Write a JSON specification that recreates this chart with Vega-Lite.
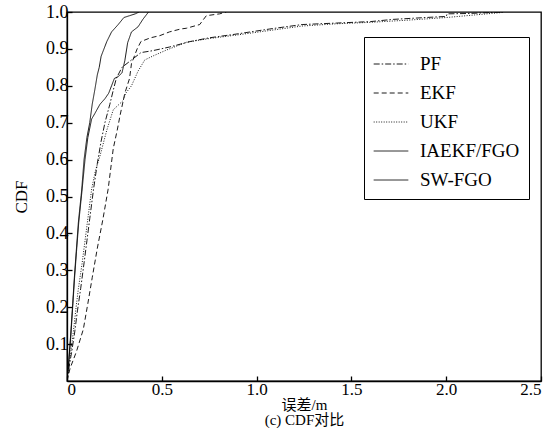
{
  "$schema": "https://vega.github.io/schema/vega-lite/v6.json",
  "width": 474,
  "height": 369,
  "autosize": {"type": "none"},
  "padding": {"left": 67, "top": 12, "right": 11, "bottom": 47},
  "background": "white",
  "config": {
    "view": {"stroke": "black", "strokeWidth": 1.3},
    "font": "Liberation Serif",
    "axis": {
      "domainColor": "black", "domainWidth": 1.3,
      "tickColor": "black", "tickWidth": 1.3, "tickSize": -5,
      "grid": false,
      "labelFont": "Liberation Serif", "labelFontSize": 17, "labelColor": "black",
      "titleFont": "Liberation Serif, Noto Sans CJK SC", "titleFontSize": 15, "titleColor": "black", "titleFontWeight": "normal"
    },
    "legend": {
      "labelFont": "Liberation Serif", "labelFontSize": 19, "labelColor": "black"
    }
  },
  "data": {
    "values": [
      {"s":"PF","x":0,"y":0},{"s":"PF","x":0.01,"y":0.035},{"s":"PF","x":0.025,"y":0.08},{"s":"PF","x":0.04,"y":0.13},{"s":"PF","x":0.055,"y":0.19},{"s":"PF","x":0.072,"y":0.25},{"s":"PF","x":0.09,"y":0.32},{"s":"PF","x":0.105,"y":0.38},{"s":"PF","x":0.12,"y":0.44},{"s":"PF","x":0.14,"y":0.52},{"s":"PF","x":0.16,"y":0.59},{"s":"PF","x":0.18,"y":0.65},{"s":"PF","x":0.2,"y":0.7},{"s":"PF","x":0.226,"y":0.75},{"s":"PF","x":0.245,"y":0.79},{"s":"PF","x":0.26,"y":0.82},{"s":"PF","x":0.29,"y":0.85},{"s":"PF","x":0.34,"y":0.87},{"s":"PF","x":0.39,"y":0.89},{"s":"PF","x":0.45,"y":0.895},{"s":"PF","x":0.54,"y":0.905},{"s":"PF","x":0.65,"y":0.92},{"s":"PF","x":0.75,"y":0.93},{"s":"PF","x":0.89,"y":0.94},{"s":"PF","x":1.07,"y":0.954},{"s":"PF","x":1.24,"y":0.966},{"s":"PF","x":1.42,"y":0.97},{"s":"PF","x":1.6,"y":0.974},{"s":"PF","x":1.72,"y":0.98},{"s":"PF","x":1.89,"y":0.985},{"s":"PF","x":2.0,"y":0.988},{"s":"PF","x":2.005,"y":0.995},{"s":"PF","x":2.12,"y":0.996},{"s":"PF","x":2.3,"y":1.0},
      {"s":"EKF","x":0,"y":0},{"s":"EKF","x":0.016,"y":0.034},{"s":"EKF","x":0.05,"y":0.08},{"s":"EKF","x":0.086,"y":0.14},{"s":"EKF","x":0.11,"y":0.21},{"s":"EKF","x":0.133,"y":0.28},{"s":"EKF","x":0.16,"y":0.36},{"s":"EKF","x":0.19,"y":0.44},{"s":"EKF","x":0.217,"y":0.52},{"s":"EKF","x":0.244,"y":0.63},{"s":"EKF","x":0.265,"y":0.68},{"s":"EKF","x":0.28,"y":0.72},{"s":"EKF","x":0.305,"y":0.78},{"s":"EKF","x":0.33,"y":0.82},{"s":"EKF","x":0.34,"y":0.86},{"s":"EKF","x":0.37,"y":0.9},{"s":"EKF","x":0.39,"y":0.92},{"s":"EKF","x":0.44,"y":0.93},{"s":"EKF","x":0.49,"y":0.936},{"s":"EKF","x":0.54,"y":0.946},{"s":"EKF","x":0.6,"y":0.954},{"s":"EKF","x":0.63,"y":0.956},{"s":"EKF","x":0.7,"y":0.966},{"s":"EKF","x":0.72,"y":0.98},{"s":"EKF","x":0.735,"y":0.99},{"s":"EKF","x":0.805,"y":0.995},{"s":"EKF","x":0.84,"y":1.0},
      {"s":"UKF","x":0,"y":0},{"s":"UKF","x":0.01,"y":0.04},{"s":"UKF","x":0.02,"y":0.08},{"s":"UKF","x":0.035,"y":0.14},{"s":"UKF","x":0.048,"y":0.2},{"s":"UKF","x":0.06,"y":0.25},{"s":"UKF","x":0.08,"y":0.32},{"s":"UKF","x":0.1,"y":0.4},{"s":"UKF","x":0.115,"y":0.46},{"s":"UKF","x":0.13,"y":0.52},{"s":"UKF","x":0.15,"y":0.57},{"s":"UKF","x":0.174,"y":0.61},{"s":"UKF","x":0.21,"y":0.68},{"s":"UKF","x":0.244,"y":0.735},{"s":"UKF","x":0.296,"y":0.76},{"s":"UKF","x":0.31,"y":0.78},{"s":"UKF","x":0.34,"y":0.8},{"s":"UKF","x":0.375,"y":0.84},{"s":"UKF","x":0.41,"y":0.87},{"s":"UKF","x":0.45,"y":0.88},{"s":"UKF","x":0.525,"y":0.897},{"s":"UKF","x":0.6,"y":0.912},{"s":"UKF","x":0.63,"y":0.918},{"s":"UKF","x":0.75,"y":0.928},{"s":"UKF","x":0.9,"y":0.938},{"s":"UKF","x":1.07,"y":0.95},{"s":"UKF","x":1.24,"y":0.962},{"s":"UKF","x":1.42,"y":0.968},{"s":"UKF","x":1.6,"y":0.972},{"s":"UKF","x":1.8,"y":0.978},{"s":"UKF","x":2.0,"y":0.985},{"s":"UKF","x":2.15,"y":0.992},{"s":"UKF","x":2.3,"y":0.999},
      {"s":"IAEKF/FGO","x":0,"y":0},{"s":"IAEKF/FGO","x":0.01,"y":0.055},{"s":"IAEKF/FGO","x":0.02,"y":0.12},{"s":"IAEKF/FGO","x":0.03,"y":0.2},{"s":"IAEKF/FGO","x":0.04,"y":0.28},{"s":"IAEKF/FGO","x":0.05,"y":0.35},{"s":"IAEKF/FGO","x":0.062,"y":0.43},{"s":"IAEKF/FGO","x":0.078,"y":0.51},{"s":"IAEKF/FGO","x":0.095,"y":0.6},{"s":"IAEKF/FGO","x":0.11,"y":0.66},{"s":"IAEKF/FGO","x":0.13,"y":0.71},{"s":"IAEKF/FGO","x":0.147,"y":0.725},{"s":"IAEKF/FGO","x":0.174,"y":0.75},{"s":"IAEKF/FGO","x":0.2,"y":0.765},{"s":"IAEKF/FGO","x":0.22,"y":0.78},{"s":"IAEKF/FGO","x":0.235,"y":0.8},{"s":"IAEKF/FGO","x":0.25,"y":0.82},{"s":"IAEKF/FGO","x":0.27,"y":0.825},{"s":"IAEKF/FGO","x":0.29,"y":0.835},{"s":"IAEKF/FGO","x":0.305,"y":0.868},{"s":"IAEKF/FGO","x":0.32,"y":0.917},{"s":"IAEKF/FGO","x":0.34,"y":0.946},{"s":"IAEKF/FGO","x":0.375,"y":0.96},{"s":"IAEKF/FGO","x":0.4,"y":0.98},{"s":"IAEKF/FGO","x":0.43,"y":1.0},
      {"s":"SW-FGO","x":0,"y":0},{"s":"SW-FGO","x":0.01,"y":0.06},{"s":"SW-FGO","x":0.02,"y":0.13},{"s":"SW-FGO","x":0.03,"y":0.21},{"s":"SW-FGO","x":0.04,"y":0.29},{"s":"SW-FGO","x":0.05,"y":0.36},{"s":"SW-FGO","x":0.06,"y":0.43},{"s":"SW-FGO","x":0.077,"y":0.515},{"s":"SW-FGO","x":0.09,"y":0.6},{"s":"SW-FGO","x":0.105,"y":0.66},{"s":"SW-FGO","x":0.12,"y":0.7},{"s":"SW-FGO","x":0.133,"y":0.75},{"s":"SW-FGO","x":0.147,"y":0.79},{"s":"SW-FGO","x":0.16,"y":0.83},{"s":"SW-FGO","x":0.17,"y":0.85},{"s":"SW-FGO","x":0.18,"y":0.88},{"s":"SW-FGO","x":0.195,"y":0.9},{"s":"SW-FGO","x":0.21,"y":0.92},{"s":"SW-FGO","x":0.235,"y":0.946},{"s":"SW-FGO","x":0.27,"y":0.966},{"s":"SW-FGO","x":0.3,"y":0.985},{"s":"SW-FGO","x":0.33,"y":0.99},{"s":"SW-FGO","x":0.36,"y":0.995},{"s":"SW-FGO","x":0.38,"y":1.0}
    ]
  },
  "mark": {"type": "line", "color": "black", "clip": true},
  "encoding": {
    "x": {
      "field": "x", "type": "quantitative",
      "scale": {"domain": [0, 2.5], "nice": false},
      "axis": {
        "values": [0, 0.5, 1, 1.5, 2, 2.5],
        "labelExpr": "datum.value == 0 ? '0' : format(datum.value, '.1f')",
        "labelPadding": 5,
        "title": ["误差/m", "(c) CDF对比"],
        "titlePadding": 0,
        "titleLineHeight": 15
      }
    },
    "y": {
      "field": "y", "type": "quantitative",
      "scale": {"domain": [0, 1], "nice": false},
      "axis": {
        "values": [0.1, 0.2, 0.3, 0.4, 0.5, 0.6, 0.7, 0.8, 0.9, 1.0],
        "format": ".1f",
        "labelPadding": 4,
        "labelFontSize": 18,
        "title": "CDF",
        "titleFontSize": 17,
        "titlePadding": 15
      }
    },
    "order": {"field": "y", "type": "quantitative"},
    "strokeDash": {
      "field": "s", "type": "nominal",
      "scale": {
        "domain": ["PF", "EKF", "UKF", "IAEKF/FGO", "SW-FGO"],
        "range": [[6, 2, 1.5, 2], [5, 3], [1, 1.5], [1, 0], [1, 0]]
      },
      "legend": {
        "title": null,
        "orient": "none",
        "legendX": 297,
        "legendY": 25,
        "strokeColor": "black",
        "fillColor": "white",
        "padding": 9,
        "symbolType": "stroke",
        "symbolSize": 1200,
        "symbolStrokeColor": "black",
        "labelOffset": 11,
        "rowPadding": 1
      }
    },
    "strokeWidth": {
      "field": "s", "type": "nominal",
      "scale": {
        "domain": ["PF", "EKF", "UKF", "IAEKF/FGO", "SW-FGO"],
        "range": [0.9, 0.9, 0.9, 1.4, 2]
      },
      "legend": {
        "title": null,
        "orient": "none",
        "legendX": 297,
        "legendY": 25,
        "strokeColor": "black",
        "fillColor": "white",
        "padding": 9,
        "symbolType": "stroke",
        "symbolSize": 1200,
        "symbolStrokeColor": "black",
        "labelOffset": 11,
        "rowPadding": 1
      }
    }
  }
}
